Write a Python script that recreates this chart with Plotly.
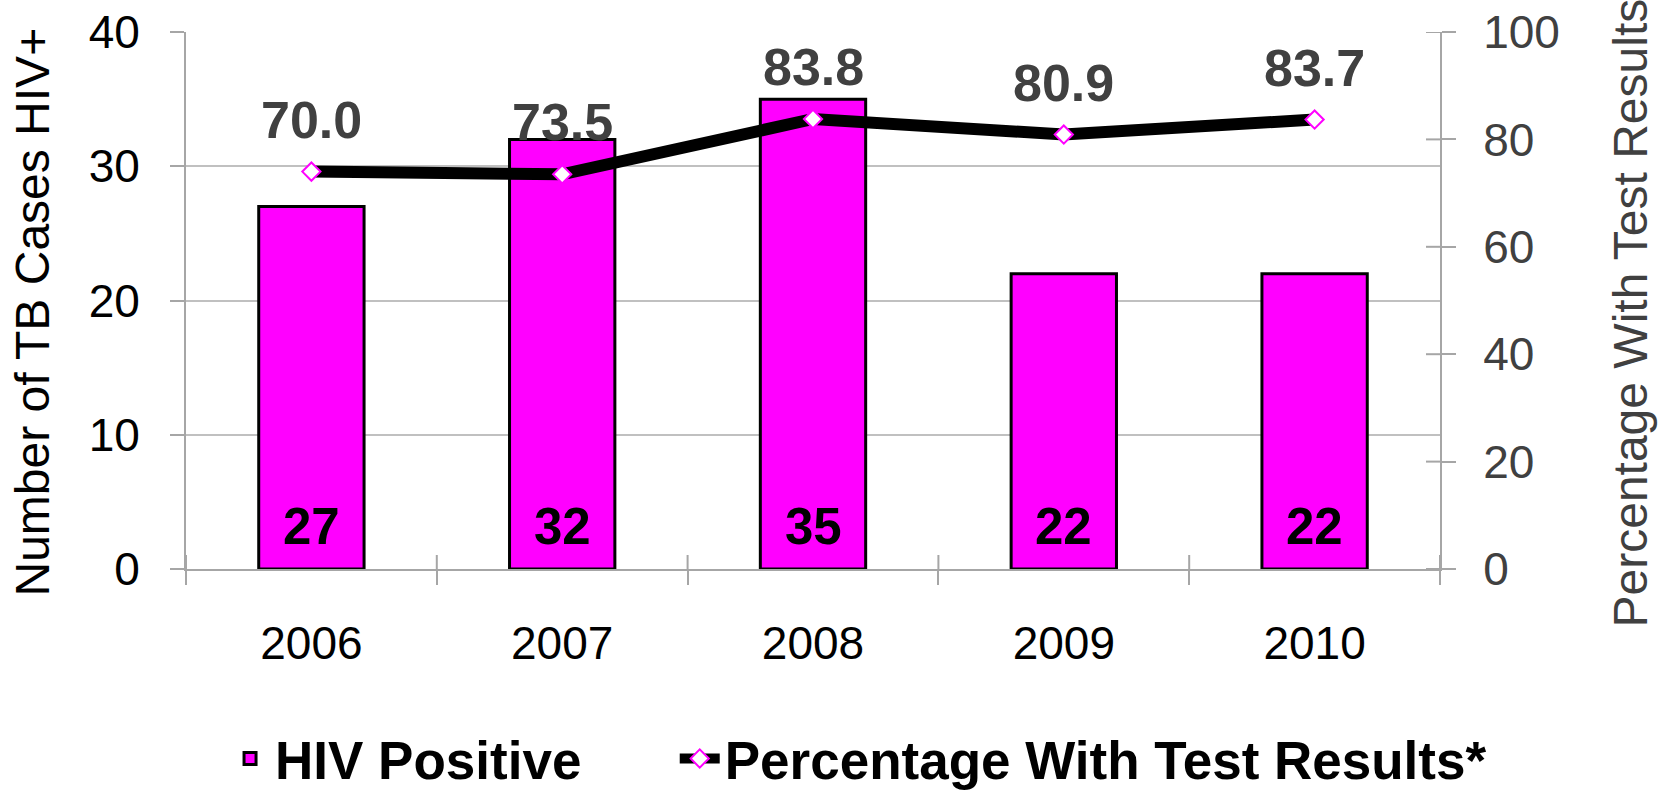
import plotly.graph_objects as go

years = ["2006", "2007", "2008", "2009", "2010"]
hiv_positive = [27, 32, 35, 22, 22]
pct_with_results = [74.0, 73.5, 83.8, 80.9, 83.7]
pct_labels = ["70.0", "73.5", "83.8", "80.9", "83.7"]
left_ticks = [0, 10, 20, 30, 40]
right_ticks = [0, 20, 40, 60, 80, 100]

FONT = "Liberation Sans, Arial, sans-serif"
MAGENTA = "#FF00FF"
AXIS_GRAY = "#A6A6A6"
GRID_GRAY = "#C0C0C0"
DARK = "#404040"
NBSP = "\u00a0"

fig = go.Figure()

fig.add_trace(go.Bar(
    x=years, y=hiv_positive, name="HIV Positive" + NBSP * 6, width=0.42,
    marker=dict(color=MAGENTA, line=dict(color="black", width=3)),
    yaxis="y", hoverinfo="skip",
))
fig.add_trace(go.Scatter(
    x=years, y=pct_with_results, name="Percentage With Test Results*",
    mode="lines+markers", yaxis="y2",
    line=dict(color="black", width=12),
    marker=dict(symbol="diamond", size=14, color="white",
                line=dict(color=MAGENTA, width=2)),
    hoverinfo="skip",
))

annotations = []
# bar value labels (x given as category index)
for i, v in enumerate(hiv_positive):
    annotations.append(dict(
        x=i, y=0, xref="x", yref="y", text=f"<b>{v}</b>", showarrow=False,
        yanchor="bottom", yshift=12,
        font=dict(family=FONT, size=51, color="black"),
    ))
# line value labels
for i, (v, lab) in enumerate(zip(pct_with_results, pct_labels)):
    annotations.append(dict(
        x=i, y=v, xref="x", yref="y2", text=f"<b>{lab}</b>", showarrow=False,
        yanchor="bottom", yshift=21,
        font=dict(family=FONT, size=52, color=DARK),
    ))
# axis titles
annotations.append(dict(
    x=0, y=0.5, xref="paper", yref="paper", xshift=-154, yshift=-12,
    text="Number of TB Cases HIV+", textangle=-90, showarrow=False,
    xanchor="center", yanchor="middle",
    font=dict(family=FONT, size=48, color="black"),
))
annotations.append(dict(
    x=1, y=0.5, xref="paper", yref="paper", xshift=190, yshift=-13,
    text="Percentage With Test Results", textangle=-90, showarrow=False,
    xanchor="center", yanchor="middle",
    font=dict(family=FONT, size=48, color=DARK),
))

# inner halves of the crossing tick marks (x boundaries and right axis)
n = len(years)
shapes = []
for i in range(n + 1):
    shapes.append(dict(
        type="line", xref="x", yref="y", x0=i - 0.5, x1=i - 0.5,
        ysizemode="pixel", yanchor=0, y0=0, y1=14,
        line=dict(color=AXIS_GRAY, width=2),
    ))
for t in right_ticks:
    shapes.append(dict(
        type="line", xref="x domain", yref="y2", y0=t, y1=t,
        xsizemode="pixel", xanchor=1, x0=-14, x1=0,
        line=dict(color=AXIS_GRAY, width=2),
    ))

fig.update_layout(
    width=1671, height=791,
    margin=dict(l=186, r=231, t=32, b=222, autoexpand=False),
    paper_bgcolor="white", plot_bgcolor="white",
    font=dict(family=FONT, color="black"),
    showlegend=True,
    legend=dict(
        orientation="h", x=1.0415, xanchor="right",
        y=-0.353, yanchor="middle",
        font=dict(family=FONT, size=53, color="black", weight="bold"),
        itemwidth=40,
    ),
    xaxis=dict(
        type="category", categoryorder="array", categoryarray=years,
        range=[-0.5, n - 0.5], automargin=False,
        showline=True, linecolor=AXIS_GRAY, linewidth=2,
        ticks="outside", tickson="boundaries", ticklen=14, tickwidth=2, tickcolor=AXIS_GRAY,
        tickfont=dict(family=FONT, size=46, color="black"),
        ticklabelstandoff=33,
        showgrid=False, zeroline=False,
    ),
    yaxis=dict(
        range=[0, 40], tickmode="array", tickvals=left_ticks, automargin=False,
        showline=True, linecolor=AXIS_GRAY, linewidth=2,
        ticks="outside", ticklen=14, tickwidth=2, tickcolor=AXIS_GRAY,
        tickfont=dict(family=FONT, size=46, color="black"),
        ticklabelstandoff=21,
        showgrid=True, gridcolor=GRID_GRAY, gridwidth=1.5, zeroline=False,
    ),
    yaxis2=dict(
        overlaying="y", side="right", anchor="x", range=[0, 100], automargin=False,
        tickmode="array", tickvals=right_ticks,
        showline=True, linecolor=AXIS_GRAY, linewidth=2,
        ticks="outside", ticklen=14, tickwidth=2, tickcolor=AXIS_GRAY,
        tickfont=dict(family=FONT, size=46, color=DARK),
        ticklabelstandoff=18,
        showgrid=False, zeroline=False,
    ),
    annotations=annotations,
    shapes=shapes,
)

fig.write_html("out.html", config={"displayModeBar": False},
               post_script="document.body.style.margin='0';")
